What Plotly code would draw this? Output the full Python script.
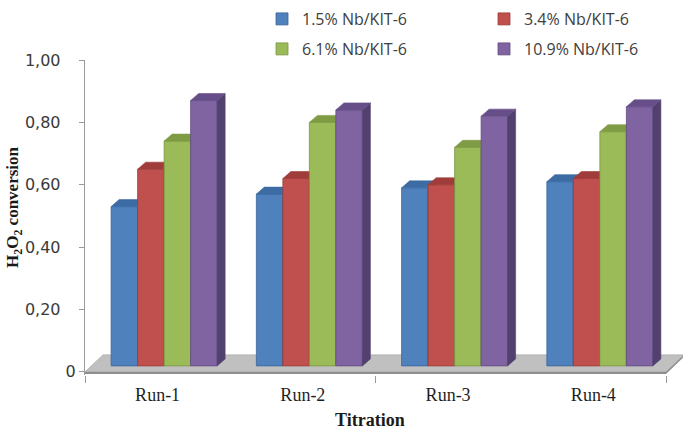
import plotly.graph_objects as go

# ---- data ----
runs = ["Run-1", "Run-2", "Run-3", "Run-4"]
series_names = ["1.5% Nb/KIT-6", "3.4% Nb/KIT-6", "6.1% Nb/KIT-6", "10.9% Nb/KIT-6"]
nb_1_5 = [0.53, 0.57, 0.59, 0.61]
nb_3_4 = [0.65, 0.62, 0.60, 0.62]
nb_6_1 = [0.74, 0.80, 0.72, 0.77]
nb_10_9 = [0.87, 0.84, 0.82, 0.85]
y_tick_vals = [0, 0.2, 0.4, 0.6, 0.8, 1.0]
y_tick_text = ["0", "0,20", "0,40", "0,60", "0,80", "1,00"]

series_values = [nb_1_5, nb_3_4, nb_6_1, nb_10_9]

# ---- styling ----
front_col = ["#4F81BD", "#C0504D", "#9BBB59", "#8064A2"]
top_col = ["#3D6BA3", "#A03D3A", "#7F9C45", "#664F88"]
side_col = ["#2F5582", "#86302E", "#667E36", "#52406E"]
edge_col = ["#3A659A", "#9C3C39", "#7A9543", "#634D84"]

W, H = 683, 429
L, R, T, B = 85, 683, 60, 375
CAT_PX = 145.25                     # pixel width of one category slot
y_range = [-0.01, 1.0]
x_range = [-0.5, -0.5 + (R - L) / CAT_PX]
ux = (x_range[1] - x_range[0]) / (R - L)   # x data units per pixel
uy = (y_range[1] - y_range[0]) / (B - T)   # y data units per pixel

bar_w = 26.5 * ux
group_shift = 6.5 * ux
base = 6 * uy
dx, dy = 8 * ux, 7 * uy
floor_dx, floor_dy = 18 * ux, 17 * uy

cats = list(range(len(runs)))
fig = go.Figure()

for i, (name, vals) in enumerate(zip(series_names, series_values)):
    xa = "x" if i == 0 else f"x{i + 1}"
    off = group_shift - 2 * bar_w + i * bar_w
    fig.add_trace(go.Bar(
        x=cats, y=[v - base for v in vals], base=base, width=bar_w, offset=off,
        name=name, marker=dict(color=front_col[i], line=dict(color=edge_col[i], width=0.8)),
        xaxis=xa, yaxis="y", legend="legend" if i < 2 else "legend2",
        hoverinfo="skip",
    ))
    tx, ty, sx, sy = [], [], [], []
    for c, v in zip(cats, vals):
        x0 = c + off
        x1 = x0 + bar_w
        tx += [x0, x1, x1 + dx, x0 + dx, x0, None]
        ty += [v, v, v + dy, v + dy, v, None]
        sx += [x1, x1, x1 + dx, x1 + dx, x1, None]
        sy += [base, v, v + dy, base + dy, base, None]
    fig.add_trace(go.Scatter(x=sx, y=sy, mode="lines", fill="toself", fillcolor=side_col[i],
                             line=dict(color=side_col[i], width=0.6), showlegend=False,
                             hoverinfo="skip", xaxis=xa, yaxis="y"))
    fig.add_trace(go.Scatter(x=tx, y=ty, mode="lines", fill="toself", fillcolor=top_col[i],
                             line=dict(color=top_col[i], width=0.6), showlegend=False,
                             hoverinfo="skip", xaxis=xa, yaxis="y"))

# floor of the 3-D plot
fx0, fx1 = -0.5, len(runs) - 0.5
fig.add_shape(type="path", xref="x", yref="y", layer="below",
              path=(f"M{fx0},0 L{fx1},0 L{fx1 + floor_dx},{floor_dy} "
                    f"L{fx0 + floor_dx},{floor_dy} Z"),
              fillcolor="#C0C0C0", line=dict(color="#A6A6A6", width=0.8))
fig.add_shape(type="path", xref="x", yref="y", layer="below",
              path=(f"M{fx0},0 L{fx1},0 L{fx1 + floor_dx},{floor_dy} "
                    f"L{fx1 + floor_dx},{floor_dy - 2 * uy} L{fx1},{-2 * uy} L{fx0},{-2 * uy} Z"),
              fillcolor="#8E8E8E", line=dict(width=0))

axis_grey = "#9A9A9A"
xa_common = dict(range=x_range, showgrid=False, zeroline=False, fixedrange=True)
legend_common = dict(orientation="h", xanchor="left", yanchor="middle",
                     entrywidth=177, entrywidthmode="pixels",
                     font=dict(family="Open Sans", size=16, color="#404040"),
                     bgcolor="rgba(0,0,0,0)", borderwidth=0)
fig.update_layout(
    width=W, height=H,
    margin=dict(l=L, r=W - R, t=T, b=H - B, autoexpand=False),
    paper_bgcolor="white", plot_bgcolor="white",
    barmode="overlay",
    xaxis=dict(**xa_common, tickvals=cats, ticktext=runs, ticks="", showline=False,
               tickfont=dict(family="Liberation Serif", size=18, color="#1F1F1F"),
               ticklabelstandoff=7,
               minor=dict(tickvals=[-0.5, 1.5, 3.5], ticks="outside", ticklen=7,
                          tickcolor=axis_grey, tickwidth=1)),
    xaxis2=dict(**xa_common, overlaying="x", visible=False, anchor="y"),
    xaxis3=dict(**xa_common, overlaying="x", visible=False, anchor="y"),
    xaxis4=dict(**xa_common, overlaying="x", visible=False, anchor="y"),
    yaxis=dict(range=y_range, tickvals=y_tick_vals,
               ticktext=[t if t == "0" else t + "\u00a0\u00a0\u00a0" for t in y_tick_text],
               ticks="outside", ticklen=5, tickcolor=axis_grey, showline=True,
               linecolor=axis_grey, linewidth=1, showgrid=False, zeroline=False,
               tickfont=dict(family="DejaVu Sans", size=16, color="#3A3A3A"), fixedrange=True),
    legend=dict(**legend_common, x=(262 - L) / (R - L), y=(B - 19) / (B - T)),
    legend2=dict(**legend_common, x=(262 - L) / (R - L), y=(B - 49) / (B - T)),
    annotations=[
        dict(text="<b>H<sub>2</sub>O<sub>2</sub> conversion</b>", xref="paper", yref="paper",
             x=(14 - L) / (R - L), y=(B - 207) / (B - T), textangle=-90, showarrow=False,
             xanchor="center", yanchor="middle",
             font=dict(family="Liberation Serif", size=17, color="#1A1A1A")),
        dict(text="<b>Titration</b>", xref="paper", yref="paper",
             x=(370 - L) / (R - L), y=(B - 420) / (B - T), showarrow=False,
             xanchor="center", yanchor="middle",
             font=dict(family="Liberation Serif", size=18, color="#1A1A1A")),
    ],
)

fig.write_html("out.html")
